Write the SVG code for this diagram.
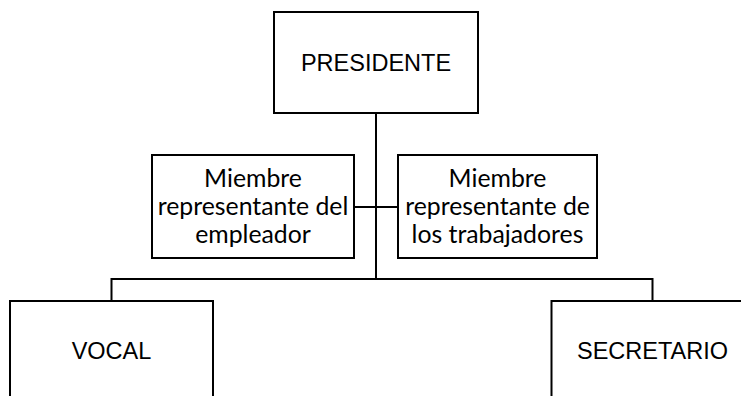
<svg xmlns="http://www.w3.org/2000/svg" width="741" height="396" viewBox="0 0 741 396">
<style>
.box{fill:#fff;stroke:#000;stroke-width:2}
.ln{fill:none;stroke:#000;stroke-width:2}
.a{font-family:"Liberation Sans",Arial,sans-serif;font-size:23.5px;fill:#000;text-anchor:middle}
.c{font-family:Lato,"Open Sans",sans-serif;font-size:24.8px;fill:#000;text-anchor:middle}
</style>
<rect width="741" height="396" fill="#fff"/>
<g id="connectors">
<path class="ln" d="M376,113 V279"/>
<path class="ln" d="M354,207 H398"/>
<path class="ln" d="M111.5,301 V279 H652.5 V301"/>
</g>
<g id="presidente">
<rect class="box" x="274" y="12" width="204" height="101"/>
<text class="a" x="376" y="71">PRESIDENTE</text>
</g>
<g id="empleador">
<rect class="box" x="152" y="155" width="202" height="103"/>
<text class="c" x="253" y="187">Miembre</text>
<text class="c" x="253" y="215">representante del</text>
<text class="c" x="253" y="243">empleador</text>
</g>
<g id="trabajadores">
<rect class="box" x="398" y="155" width="199" height="103"/>
<text class="c" x="497.5" y="187">Miembre</text>
<text class="c" x="497.5" y="215">representante de</text>
<text class="c" x="497.5" y="243">los trabajadores</text>
</g>
<g id="vocal">
<rect class="box" x="10" y="301" width="203" height="110"/>
<text class="a" x="111.5" y="359">VOCAL</text>
</g>
<g id="secretario">
<rect class="box" x="551.5" y="301" width="203" height="110"/>
<text class="a" x="652.5" y="359">SECRETARIO</text>
</g>
</svg>
